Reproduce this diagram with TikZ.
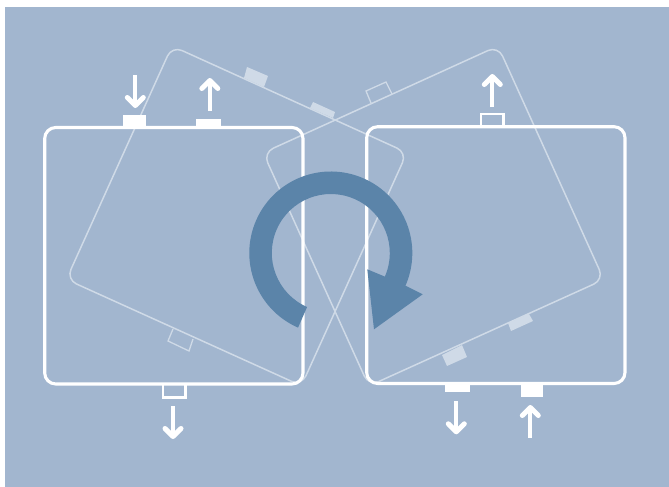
\documentclass[tikz,border=0pt]{standalone}
\definecolor{bgblue}{HTML}{A2B6CF}
\definecolor{turnblue}{HTML}{5B84A9}
\definecolor{ghost}{HTML}{CFDAE7}
\tikzset{
  panel/.style={draw=white,line width=3.1pt,rounded corners=11pt},
  ghostpanel/.style={draw=ghost,line width=1.5pt,rounded corners=11pt},
  ghostfill/.style={fill=ghost},
  ghostport/.style={draw=ghost,line width=1.3pt,line join=miter},
  portfill/.style={fill=white},
  portline/.style={draw=white,line width=2.7pt},
  shaft/.style={draw=white,line width=4pt},
  chevron/.style={draw=white,line width=5pt,line cap=round,line join=round}
}
\newcommand{\downarrowmark}[3]{%
  \draw[shaft] (#1,#2) -- (#1,#3-5);
  \draw[chevron] (#1-8,#3-11.5) -- (#1,#3-3.5) -- (#1+8,#3-11.5);}
\newcommand{\uparrowmark}[3]{%
  \draw[shaft] (#1,#2) -- (#1,#3+5);
  \draw[chevron] (#1-8,#3+11.5) -- (#1,#3+3.5) -- (#1+8,#3+11.5);}
\begin{document}
\begin{tikzpicture}[x=1pt,y=1pt,yscale=-1]
\useasboundingbox (0,0) rectangle (669,487);
\fill[bgblue] (5,7) rectangle (669,487);
% tilted ghost panels
\draw[ghostpanel] (301.4,385.8) -- (66.4,279.4) -- (172,46) -- (407,152.6) -- cycle;
\draw[ghostpanel] (368.8,386) -- (603.8,279.6) -- (498,46) -- (263.2,152.8) -- cycle;
% ghost ports
\fill[ghostfill] (247,67) -- (268,76) -- (264,87) -- (244,78) -- cycle;
\fill[ghostfill] (313,102) -- (335,112) -- (333,118) -- (310,108) -- cycle;
\draw[ghostport] (371,103) -- (366,91) -- (386,82) -- (392,94);
\draw[ghostport] (173,329) -- (168,341) -- (189,351) -- (193,339);
\fill[ghostfill] (442,355) -- (462,345) -- (467,357) -- (447,366) -- cycle;
\fill[ghostfill] (508,323) -- (529,314) -- (533,321) -- (511,331) -- cycle;
% ports
\fill[portfill] (123.3,114.5) rectangle (145.7,128);
\fill[portfill] (196,119) rectangle (221,128);
\draw[portline] (163,384) -- (163,397.2) -- (185.5,397.2) -- (185.5,384);
\draw[portline] (481,127) -- (481,113.9) -- (503.5,113.9) -- (503.5,127);
\fill[portfill] (445,383) rectangle (470,392);
\fill[portfill] (520.7,383) rectangle (542.7,397.2);
% panels
\draw[panel] (44.7,127.5) rectangle (303,384);
\draw[panel] (366.7,126.7) rectangle (625,383.5);
% arrows
\downarrowmark{135.3}{75}{109}
\uparrowmark{209.8}{111}{77}
\uparrowmark{492.3}{107}{73}
\downarrowmark{173}{406}{440}
\downarrowmark{456.3}{401.3}{435.3}
\uparrowmark{530.3}{437.7}{404}
% turning arrow
\fill[turnblue] ([shift={(113.7:81.5)}]330.8,253) arc[start angle=113.7,end angle=383.6,radius=81.5]
  -- (422.7,294.3) -- (374,329.3) -- (367.3,269.3)
  -- ([shift={(383.6:59)}]330.8,253) arc[start angle=383.6,end angle=113.7,radius=59] -- cycle;
\end{tikzpicture}
\end{document}
